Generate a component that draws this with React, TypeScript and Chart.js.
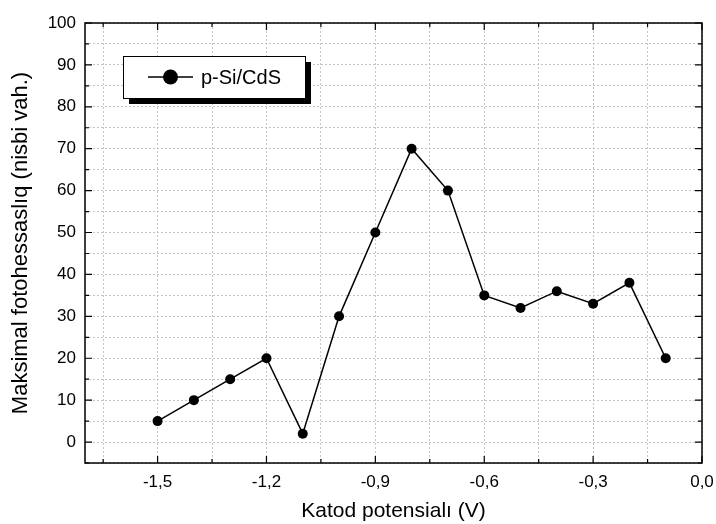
import React, { useEffect, useRef } from "react";
import { Chart, registerables } from "chart.js";

Chart.register(...registerables);

// ---- data ----
const potentials = [-1.5, -1.4, -1.3, -1.2, -1.1, -1.0, -0.9, -0.8, -0.7, -0.6, -0.5, -0.4, -0.3, -0.2, -0.1];
const photosensitivity = [5, 10, 15, 20, 2, 30, 50, 70, 60, 35, 32, 36, 33, 38, 20];
const xTickValues = [-1.65, -1.5, -1.35, -1.2, -1.05, -0.9, -0.75, -0.6, -0.45, -0.3, -0.15, 0];
const xLabelValues = [-1.5, -1.2, -0.9, -0.6, -0.3, 0];
const yTickValues = [-5, 0, 5, 10, 15, 20, 25, 30, 35, 40, 45, 50, 55, 60, 65, 70, 75, 80, 85, 90, 95, 100];
const yLabelValues = [0, 10, 20, 30, 40, 50, 60, 70, 80, 90, 100];
const seriesLabel = "p-Si/CdS";
const xTitle = "Katod potensialı (V)";
const yTitle = "Maksimal fotohessaslıq (nisbi vah.)";

const FONT = "'Liberation Sans', Arial, sans-serif";

const isIn = (list: number[], v: number) => list.some((x) => Math.abs(x - v) < 1e-6);
const fmt = (v: number) => v.toFixed(1).replace(".", ",");

const framePlugin = {
  id: "frame",
  afterDraw(chart: any) {
    const { ctx, chartArea: a, scales } = chart;
    ctx.save();
    ctx.strokeStyle = "#000";
    ctx.lineWidth = 1.2;
    ctx.beginPath();
    const xs = scales.x;
    xs.ticks.forEach((t: any) => {
      const px = xs.getPixelForValue(t.value);
      const len = isIn(xLabelValues, t.value) ? 7 : 4;
      ctx.moveTo(px, a.bottom);
      ctx.lineTo(px, a.bottom - len);
      ctx.moveTo(px, a.top);
      ctx.lineTo(px, a.top + len);
    });
    const ys = scales.y;
    ys.ticks.forEach((t: any) => {
      const py = ys.getPixelForValue(t.value);
      const len = isIn(yLabelValues, t.value) ? 7 : 4;
      ctx.moveTo(a.left, py);
      ctx.lineTo(a.left + len, py);
      ctx.moveTo(a.right, py);
      ctx.lineTo(a.right - len, py);
    });
    ctx.stroke();
    ctx.lineWidth = 1.5;
    ctx.strokeRect(a.left, a.top, a.right - a.left, a.bottom - a.top);
    ctx.restore();
  },
};

const legendPlugin = {
  id: "boxLegend",
  afterDraw(chart: any) {
    const { ctx } = chart;
    const ds = chart.data.datasets[0];
    const x = 123, y = 56, w = 182, h = 42, sh = 6;
    ctx.save();
    ctx.fillStyle = "#000";
    ctx.fillRect(x + sh, y + sh, w, h);
    ctx.fillStyle = "#fff";
    ctx.fillRect(x, y, w, h);
    ctx.strokeStyle = "#000";
    ctx.lineWidth = 1;
    ctx.strokeRect(x + 0.5, y + 0.5, w, h);
    const cy = y + h / 2;
    ctx.lineWidth = 1.5;
    ctx.beginPath();
    ctx.moveTo(148, cy);
    ctx.lineTo(193, cy);
    ctx.stroke();
    ctx.beginPath();
    ctx.arc(170.5, cy, 7.5, 0, Math.PI * 2);
    ctx.fillStyle = "#000";
    ctx.fill();
    ctx.font = `20px ${FONT}`;
    ctx.textBaseline = "middle";
    ctx.textAlign = "left";
    ctx.fillText(ds.label, 201, cy + 1);
    ctx.restore();
  },
};

export default function App() {
  const ref = useRef<HTMLCanvasElement>(null);

  useEffect(() => {
    document.body.style.margin = "0";
    const canvas = ref.current!;
    const chart = new Chart(canvas, {
      type: "line",
      data: {
        datasets: [
          {
            label: seriesLabel,
            data: potentials.map((p, i) => ({ x: p, y: photosensitivity[i] })),
            borderColor: "#000",
            borderWidth: 1.5,
            backgroundColor: "#000",
            pointBackgroundColor: "#000",
            pointBorderColor: "#000",
            pointRadius: 5,
            pointBorderWidth: 0,
            tension: 0,
            fill: false,
          },
        ],
      },
      options: {
        responsive: false,
        animation: false,
        devicePixelRatio: 1,
        layout: { padding: { left: 0, top: 23, right: 14, bottom: 0 } },
        plugins: {
          legend: { display: false },
          tooltip: { enabled: false },
          title: { display: false },
        },
        scales: {
          x: {
            type: "linear",
            min: -1.7,
            max: 0,
            afterBuildTicks: (scale: any) => {
              scale.ticks = xTickValues.map((v) => ({ value: v }));
            },
            afterFit: (scale: any) => {
              scale.height = 61;
              scale.paddingLeft = 0;
              scale.paddingRight = 0;
            },
            ticks: {
              autoSkip: false,
              maxRotation: 0,
              padding: 9,
              color: "#000",
              font: { family: FONT, size: 17 },
              callback: (v: any) => (isIn(xLabelValues, Number(v)) ? fmt(Number(v)) : ""),
            },
            grid: { color: "#c4c4c4", lineWidth: 1, drawTicks: false },
            border: { display: false, dash: [2, 2] },
            title: {
              display: true,
              text: xTitle,
              color: "#000",
              font: { family: FONT, size: 21 },
              padding: { top: 0, bottom: 0 },
            },
          },
          y: {
            type: "linear",
            min: -5,
            max: 100,
            afterBuildTicks: (scale: any) => {
              scale.ticks = yTickValues.map((v) => ({ value: v }));
            },
            afterFit: (scale: any) => {
              scale.width = 85;
              scale.paddingTop = 0;
              scale.paddingBottom = 0;
            },
            ticks: {
              autoSkip: false,
              padding: 9,
              color: "#000",
              font: { family: FONT, size: 17 },
              callback: (v: any) => (isIn(yLabelValues, Number(v)) ? String(v) : ""),
            },
            grid: { color: "#c4c4c4", lineWidth: 1, drawTicks: false },
            border: { display: false, dash: [2, 2] },
            title: {
              display: true,
              text: yTitle,
              color: "#000",
              font: { family: FONT, size: 22 },
              padding: { top: 8, bottom: 0 },
            },
          },
        },
      },
      plugins: [framePlugin, legendPlugin],
    });
    return () => chart.destroy();
  }, []);

  return (
    <div style={{ position: "absolute", left: 0, top: 0, width: 716, height: 524 }}>
      <canvas ref={ref} width={716} height={524} style={{ display: "block" }} />
    </div>
  );
}
